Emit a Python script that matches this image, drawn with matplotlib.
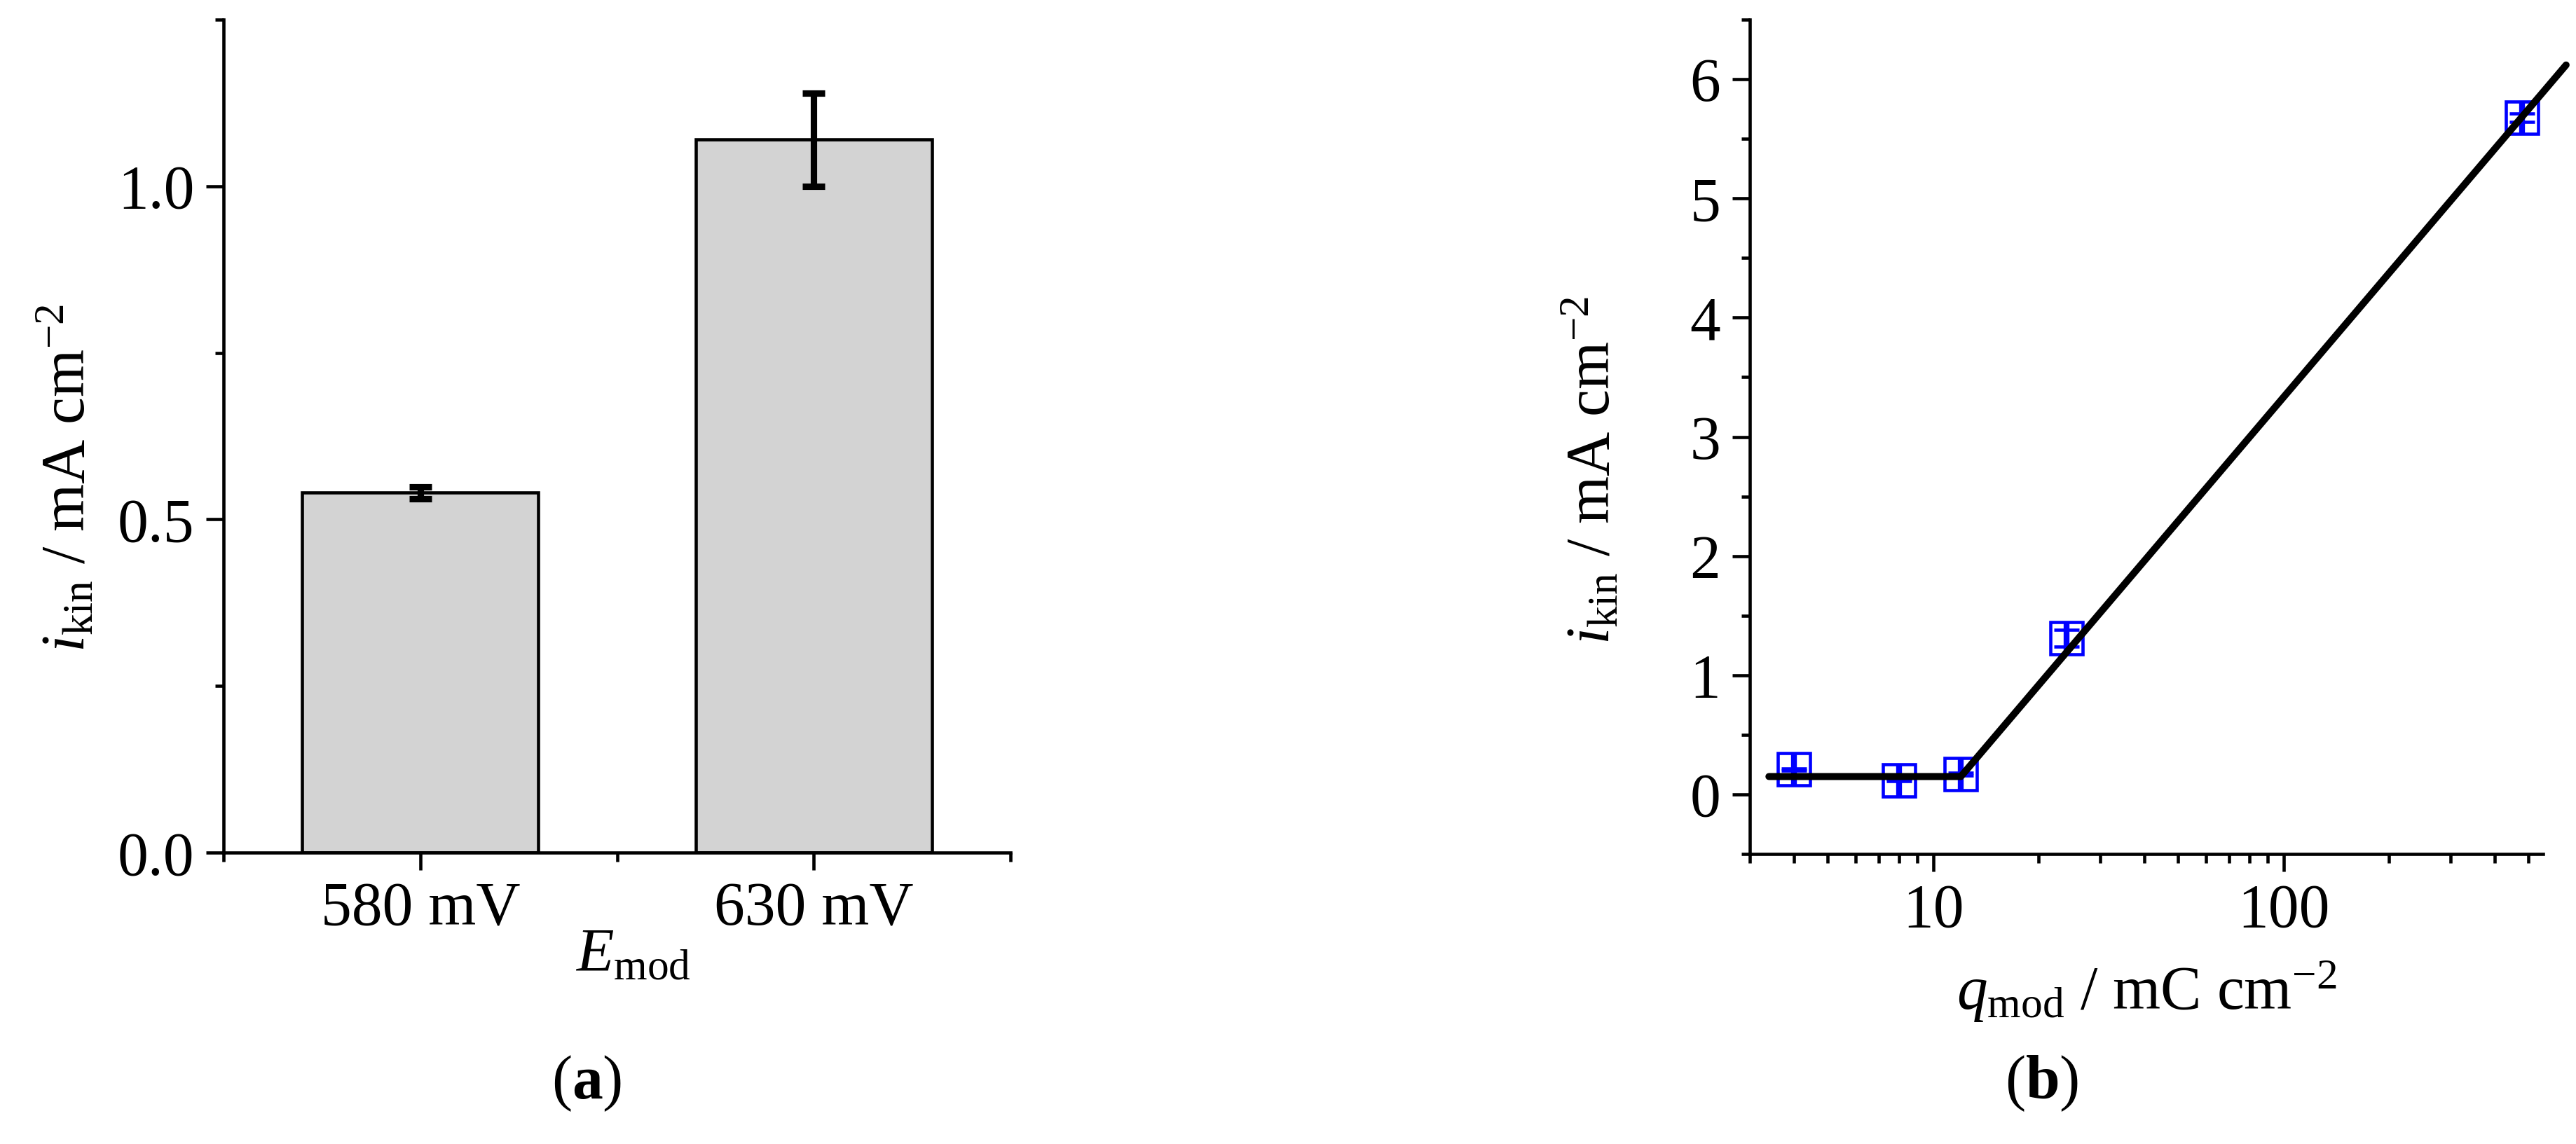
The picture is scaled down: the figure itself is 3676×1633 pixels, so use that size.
import numpy as np
import matplotlib
matplotlib.use("Agg")
from matplotlib import pyplot as plt
from matplotlib.ticker import MultipleLocator, LogLocator, FixedLocator, FixedFormatter, NullFormatter

plt.rcParams['font.family'] = ['Liberation Serif', 'DejaVu Serif']
plt.rcParams['mathtext.fontset'] = 'custom'
plt.rcParams['mathtext.rm'] = 'Liberation Serif'
plt.rcParams['mathtext.it'] = 'Liberation Serif:italic'
plt.rcParams['mathtext.bf'] = 'Liberation Serif:bold'
plt.rcParams['font.size'] = 21

# (a) bar chart data
potentials = ['580 mV', '630 mV']
i_kin_bar = [0.540, 1.070]
i_kin_bar_err = [0.009, 0.070]

# (b) points and fit line
q_mod = [4, 8, 12, 24, 480]
i_kin = [0.21, 0.12, 0.17, 1.31, 5.68]
err_outer = [0.14, 0.14, 0.14, 0.14, 0.14]
err_inner = [0.01, 0.01, 0.01, 0.07, 0.035]
fit_q = [3.4, 12, 640]
fit_i = [0.15, 0.15, 6.12]

fig = plt.figure(figsize=(3676 / 300, 1633 / 300), dpi=300)
ax1 = fig.add_axes([0.0868, 0.2547, 0.3055, 0.7281])
ax2 = fig.add_axes([0.6793, 0.2535, 0.3079, 0.7293])

def style(ax):
    for s in ['top', 'right']:
        ax.spines[s].set_visible(False)
    for s in ['left', 'bottom']:
        ax.spines[s].set_linewidth(1.1)
    ax.tick_params(which='major', direction='out', length=6, width=1.1, pad=4)
    ax.tick_params(which='minor', direction='out', length=3, width=1.1)

# ---- panel (a)
pos = np.arange(len(potentials))
ax1.bar(pos, i_kin_bar, width=0.6, color='#d3d3d3', edgecolor='black', linewidth=1.1, zorder=2)
ax1.errorbar(pos, i_kin_bar, yerr=i_kin_bar_err, fmt='none', ecolor='black',
             elinewidth=2.2, capsize=3.9, capthick=2.2, zorder=3)
ax1.set_xlim(-0.5, 1.5)
ax1.set_ylim(0, 1.25)
ax1.set_xticks(pos)
ax1.set_xticklabels(potentials)
ax1.xaxis.set_minor_locator(MultipleLocator(0.5))
ax1.yaxis.set_major_locator(MultipleLocator(0.5))
ax1.yaxis.set_minor_locator(MultipleLocator(0.25))
ax1.yaxis.set_major_formatter(plt.FormatStrFormatter('%.1f'))
style(ax1)
ax1.set_xlabel(r'$E_{\mathrm{mod}}$')
ax1.xaxis.set_label_coords(0.52, -0.09)
ax1.set_ylabel(r'$i_{\mathrm{kin}}$ / mA cm$^{-2}$')
ax1.yaxis.set_label_coords(-0.16, 0.45)

# ---- panel (b)
ax2.set_xscale('log')
ax2.plot(fit_q, fit_i, color='black', lw=2.4, solid_capstyle='round', clip_on=False, zorder=4)
ax2.errorbar(q_mod, i_kin, yerr=err_outer, fmt='none', ecolor='blue', elinewidth=2.0,
             capsize=0, zorder=3)
ax2.errorbar(q_mod, i_kin, yerr=err_inner, fmt='s', mfc='none', mec='blue', mew=1.1,
             ms=11, ecolor='blue', elinewidth=0, capsize=4.3, capthick=3.0, zorder=3)
ax2.set_xlim(3, 550)
ax2.set_ylim(-0.5, 6.5)
ax2.xaxis.set_major_locator(FixedLocator([10, 100]))
ax2.xaxis.set_major_formatter(FixedFormatter(['10', '100']))
ax2.xaxis.set_minor_locator(LogLocator(base=10, subs=np.arange(2, 10), numticks=20))
ax2.xaxis.set_minor_formatter(NullFormatter())
ax2.yaxis.set_major_locator(MultipleLocator(1))
ax2.yaxis.set_minor_locator(MultipleLocator(0.5))
style(ax2)
ax2.set_xlabel(r'$q_{\mathrm{mod}}$ / mC cm$^{-2}$')
ax2.xaxis.set_label_coords(0.5, -0.125)
ax2.set_ylabel(r'$i_{\mathrm{kin}}$ / mA cm$^{-2}$')
ax2.yaxis.set_label_coords(-0.16, 0.46)

fig.text(0.2277, 0.0527, r'($\mathbf{a}$)', ha='center', va='center')
fig.text(0.7927, 0.0527, r'($\mathbf{b}$)', ha='center', va='center')

fig.savefig('out.png', dpi=300)
